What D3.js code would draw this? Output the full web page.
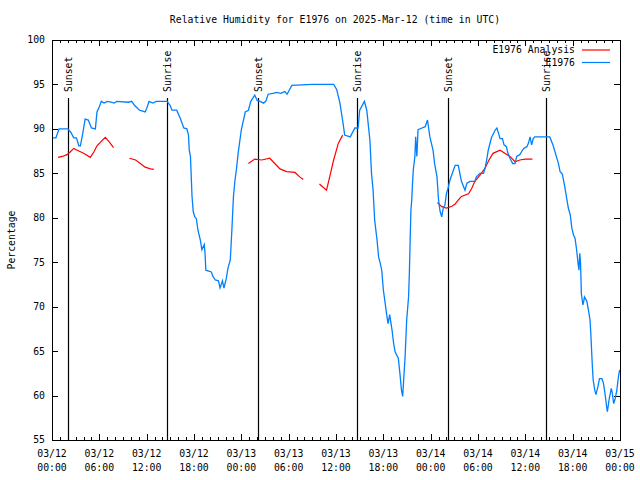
<!DOCTYPE html>
<html>
<head>
<meta charset="utf-8">
<script src="https://cdn.jsdelivr.net/npm/d3@7"></script>
<style>
html,body{margin:0;padding:0;background:#fff;}
svg{display:block;}
text{font-family:"DejaVu Sans Mono",monospace;font-size:9.8px;fill:#000;}
</style>
</head>
<body>
<svg id="chart" width="640" height="480"></svg>
<script>
// ---- data (hours since 2025-03-12 00:00 UTC) ----
const titleText = "Relative Humidity for E1976 on 2025-Mar-12 (time in UTC)";
const yTicks = [55,60,65,70,75,80,85,90,95,100];
const seriesNames = ["E1976 Analysis","E1976"];

const obsHours = [0,0.5,0.9,2.0,2.4,2.75,3.1,3.4,3.6,3.9,4.2,4.6,5.0,5.5,5.7,6.0,6.25,6.6,7.0,7.5,7.9,8.2,9.7,10.1,10.5,11.1,11.5,11.8,12.0,12.3,12.8,13.2,14.6,15.0,15.2,15.8,16.3,16.7,17.1,17.3,17.4,17.55,17.75,17.9,18.1,18.3,18.5,18.8,19.0,19.2,19.3,19.4,19.5,20.2,20.4,20.7,21.1,21.3,21.5,21.6,21.8,22.1,22.3,22.6,22.8,23.0,23.2,23.4,23.6,24.0,24.5,24.9,25.2,25.7,26.0,26.4,26.8,27.1,27.4,28.0,28.5,29.0,29.5,29.8,30.1,30.4,33.0,35.7,36.1,36.5,36.9,37.1,37.8,38.4,38.8,39.0,39.6,39.9,40.3,40.5,40.7,40.9,41.2,41.4,41.6,41.8,42.0,42.2,42.4,42.6,42.8,43.1,43.3,43.5,43.9,44.1,44.3,44.45,44.6,44.75,44.96,45.2,45.3,45.4,45.5,45.6,45.7,45.8,46.0,46.1,46.25,46.4,46.9,47.3,47.6,47.9,48.3,48.5,48.8,49.0,49.2,49.4,49.6,49.8,50.0,50.2,50.45,50.9,51.1,51.5,51.7,51.9,52.35,52.6,53.0,53.6,53.8,54.25,54.7,54.9,55.1,55.3,55.5,55.7,56.2,56.4,56.6,56.8,57.1,57.3,57.6,57.8,58.05,58.4,58.7,58.9,59.3,59.5,59.8,60.2,60.4,60.6,60.8,61.0,61.2,63.1,63.5,63.7,64.2,64.4,64.7,64.8,65.0,65.2,65.45,65.7,65.9,66.1,66.3,66.5,66.7,66.8,66.9,67.0,67.1,67.3,67.4,67.5,67.8,68.0,68.2,68.3,68.4,68.5,68.6,68.8,68.95,69.2,69.4,69.7,69.9,70.1,70.3,70.4,70.65,70.9,71.0,71.2,71.4,71.6,71.8,71.95];
const obsValues = [89.0,89.0,90.0,90.0,89.6,89.0,89.0,88.1,88.1,89.5,91.1,91.0,90.1,90.0,91.9,92.5,93.1,92.9,93.1,93.0,92.9,93.1,93.0,93.1,92.6,92.1,92.0,91.9,92.3,93.1,92.9,93.1,93.1,92.6,92.1,92.1,91.1,90.1,90.0,89.3,87.6,86.9,82.4,80.7,80.1,79.9,78.6,77.5,76.4,76.8,77.0,76.0,74.1,73.9,73.4,73.0,72.9,72.1,72.6,72.9,72.1,73.2,74.3,75.25,78.6,82.4,84.25,85.6,87.3,89.9,91.9,92.1,93.1,93.8,93.2,93.1,92.9,93.1,93.9,94.0,94.1,94.0,94.2,93.9,94.4,94.9,95.0,95.0,94.4,92.9,90.6,89.3,89.1,90.1,90.1,92.1,93.1,92.1,88.7,85.0,83.1,79.75,77.5,75.6,74.9,74.1,71.9,70.6,69.25,68.1,69.1,67.4,65.9,64.9,64.2,62.5,60.6,59.9,62.1,64.2,68.5,71.1,73.75,77.5,80.9,82.0,83.9,85.4,86.9,89.1,86.9,89.9,90.1,90.25,91.0,89.1,87.6,86.1,84.6,82.0,80.7,80.1,81.1,81.4,82.75,83.3,84.25,85.4,85.9,85.9,85.0,84.1,83.1,83.9,84.1,84.1,84.6,85.0,85.0,85.6,86.5,87.6,88.3,89.0,89.9,90.1,89.5,88.9,88.9,88.2,88.0,87.25,86.7,86.1,86.1,86.9,87.1,87.4,87.8,88.0,88.4,89.1,88.2,88.9,89.1,89.1,88.2,87.6,86.1,85.2,84.9,84.4,83.5,82.4,81.1,80.3,78.8,78.1,77.7,76.4,74.75,74.1,76.0,74.9,71.5,70.2,70.6,71.1,70.6,69.6,68.5,67.0,65.1,63.25,61.75,60.6,60.1,61.0,61.9,61.9,61.4,60.25,58.75,58.2,59.7,60.8,60.4,59.1,59.7,60.6,62.1,62.9];

// null marks a gap in the analysis series
const anaHours = [0.76,1.3,1.9,2.3,2.75,3.2,4.0,4.86,5.3,5.7,6.25,6.75,7.2,7.8,null,9.8,10.6,11.2,11.8,12.5,12.9,null,24.9,25.7,26.6,27.6,28.3,28.9,29.75,30.8,31.4,31.85,null,33.9,34.4,34.8,35.2,35.7,36.3,36.85,null,48.85,49.4,50.0,50.7,51.1,51.5,51.9,52.8,53.2,53.6,54.25,54.9,55.4,55.9,56.8,57.4,58.05,58.7,59.3,60.0,60.9];
const anaValues = [86.8,86.9,87.1,87.4,87.8,87.6,87.25,86.8,87.4,88.1,88.6,89.05,88.6,87.9,null,86.7,86.5,86.1,85.7,85.5,85.45,null,86.1,86.6,86.5,86.7,86.05,85.5,85.2,85.1,84.6,84.3,null,83.8,83.4,83.1,84.6,86.5,88.4,89.3,null,81.7,81.25,81.1,81.3,81.55,82.0,82.4,82.7,83.3,84.1,84.8,85.6,86.5,87.25,87.6,87.25,86.9,86.3,86.5,86.6,86.6];

const sunLabels = ["Sunset","Sunrise","Sunset","Sunrise","Sunset","Sunrise"];
const sunHours = [2.05,14.6,26.15,38.6,50.25,62.65];

// ---- drawing ----
const svg = d3.select("#chart");
const L = 52, R = 620, T = 40, B = 440;
const t0 = Date.UTC(2025,2,12,0,0);
const hr = h => new Date(t0 + h*3600000);
const x = d3.scaleUtc().domain([hr(0), hr(72)]).range([L, R]);
const y = d3.scaleLinear().domain([55,100]).range([B, T]);

const red = "#ff0000", blue = "#0080ff";

// title
svg.append("text").attr("x", 335).attr("y", 23).attr("text-anchor","middle").text(titleText);
// y label
svg.append("text").attr("transform","translate(15,240) rotate(-90)").attr("text-anchor","middle").text("Percentage");

// ticks
const majorTicks = d3.range(0, 73, 6).map(hr);
const minorTicks = d3.range(0, 73, 1).filter(h => h % 6 !== 0).map(hr);
const g = svg.append("g").attr("stroke","#000").attr("stroke-width",1).attr("shape-rendering","crispEdges");
majorTicks.forEach(d => {
  const xx = Math.round(x(d)) + 0.5;
  g.append("line").attr("x1",xx).attr("x2",xx).attr("y1",B).attr("y2",B-6);
  g.append("line").attr("x1",xx).attr("x2",xx).attr("y1",T).attr("y2",T+6);
});
minorTicks.forEach(d => {
  const xx = Math.round(x(d)) + 0.5;
  g.append("line").attr("x1",xx).attr("x2",xx).attr("y1",B).attr("y2",B-3);
  g.append("line").attr("x1",xx).attr("x2",xx).attr("y1",T).attr("y2",T+3);
});
yTicks.forEach(v => {
  const yy = Math.round(y(v)) + 0.5;
  g.append("line").attr("x1",L).attr("x2",L+6).attr("y1",yy).attr("y2",yy);
  g.append("line").attr("x1",R).attr("x2",R-6).attr("y1",yy).attr("y2",yy);
});

// tick labels
const fmtD = d3.utcFormat("%m/%d"), fmtT = d3.utcFormat("%H:%M");
majorTicks.forEach(d => {
  const t = svg.append("text").attr("x", x(d)).attr("y", 457).attr("text-anchor","middle");
  t.append("tspan").attr("x", x(d)).text(fmtD(d));
  t.append("tspan").attr("x", x(d)).attr("dy", 14).text(fmtT(d));
});
yTicks.forEach(v => {
  svg.append("text").attr("x", 45).attr("y", y(v)).attr("dy","0.35em").attr("text-anchor","end").text(v);
});

// sunrise / sunset lines
sunHours.forEach((h,i) => {
  const xx = Math.round(x(hr(h))) + 0.5;
  svg.append("line").attr("x1",xx).attr("x2",xx).attr("y1",98).attr("y2",B)
    .attr("stroke","#000").attr("stroke-width",1.2);
  svg.append("text").attr("transform",`translate(${xx},92) rotate(-90)`)
    .attr("dy","0.35em").attr("text-anchor","start").text(sunLabels[i]);
});

// series
const obs = obsHours.map((h,i) => ({t: hr(h), v: obsValues[i]}));
const ana = anaHours.map((h,i) => ({t: h === null ? null : hr(h), v: anaValues[i]}));
const line = d3.line().defined(d => d.t !== null && d.v !== null).x(d => x(d.t)).y(d => y(d.v)).curve(d3.curveStepAfter);
const line2 = d3.line().defined(d => d.t !== null && d.v !== null).x(d => x(d.t)).y(d => y(d.v));
svg.append("path").datum(ana).attr("d", line2).attr("fill","none").attr("stroke",red).attr("stroke-width",1.2);
svg.append("path").datum(obs).attr("d", line2).attr("fill","none").attr("stroke",blue).attr("stroke-width",1.3);

// legend
const legColors = [red, blue];
seriesNames.forEach((n,i) => {
  const yy = 50 + i*12.5;
  svg.append("text").attr("x", 575).attr("y", yy).attr("dy","0.35em").attr("text-anchor","end").text(n);
  svg.append("line").attr("x1",582).attr("x2",610).attr("y1",yy).attr("y2",yy).attr("stroke",legColors[i]).attr("stroke-width",1.2);
});

// frame
svg.append("rect").attr("x",L+0.5).attr("y",T+0.5).attr("width",R-L).attr("height",B-T)
  .attr("fill","none").attr("stroke","#000").attr("stroke-width",1).attr("shape-rendering","crispEdges");
</script>
</body>
</html>
